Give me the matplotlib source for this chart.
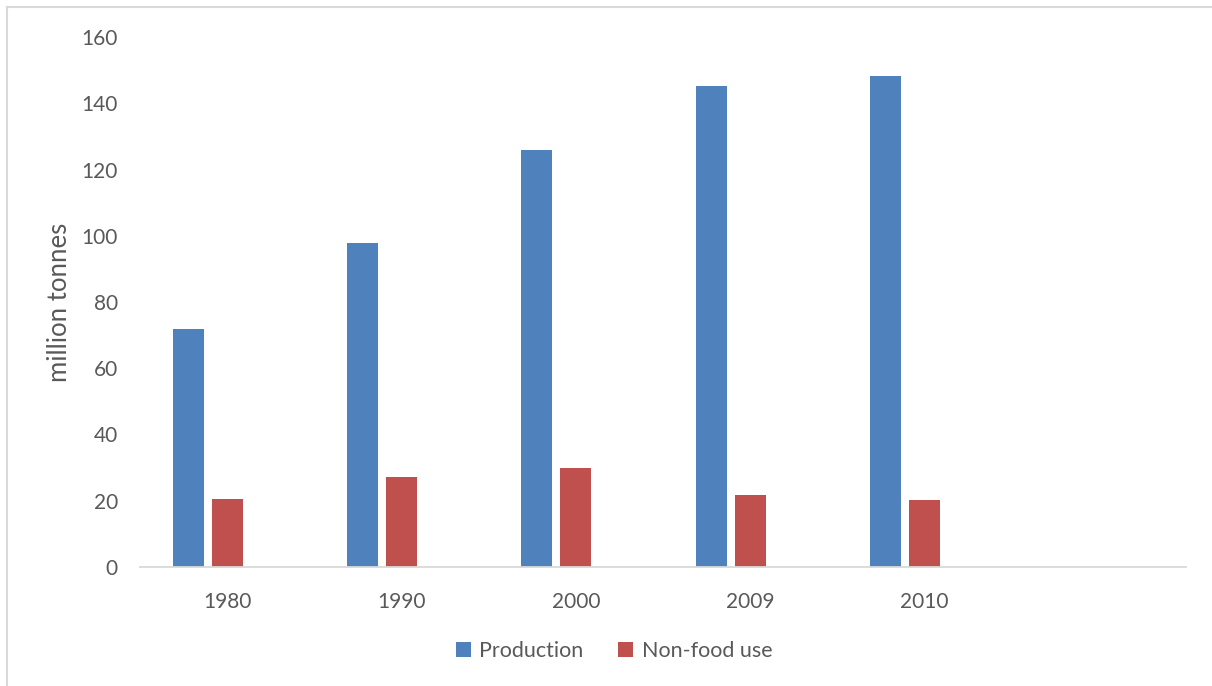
import matplotlib.pyplot as plt
import numpy as np
from matplotlib.lines import Line2D

# data
years = ['1980', '1990', '2000', '2009', '2010', '']
production = [71.8, 97.8, 125.9, 145.2, 148.2]
non_food = [20.5, 27.2, 29.9, 21.7, 20.2]
yticks = [0, 20, 40, 60, 80, 100, 120, 140, 160]

blue = '#4F81BD'
red = '#C0504D'
grey_txt = '#595959'

plt.rcParams['font.family'] = ['Lato', 'DejaVu Sans']

fig = plt.figure(figsize=(12.12, 6.86), dpi=100)
ax = fig.add_axes([140/1212, 1-567/686, (1186-140)/1212, (567-37)/686])

x = np.arange(len(production))
w = 0.178
step = 0.224
ax.bar(x - step, production, width=w, color=blue, label='Production')
ax.bar(x, non_food, width=w, color=red, label='Non-food use')

ax.set_xlim(-0.5, len(years) - 0.5)
ax.set_ylim(0, 160)
ax.set_yticks(yticks)
ax.set_xticks(np.arange(len(years)))
ax.set_xticklabels(years)
ax.tick_params(axis='both', length=0, labelsize=15, colors=grey_txt)
ax.tick_params(axis='y', pad=16)
ax.tick_params(axis='x', pad=18)

for s in ['top', 'right', 'left']:
    ax.spines[s].set_visible(False)
ax.spines['bottom'].set_color('#D9D9D9')
ax.spines['bottom'].set_linewidth(1.3)

ax.set_ylabel('million tonnes', fontsize=18.5, color=grey_txt, va='center')
ax.yaxis.set_label_coords(-0.0765, 0.5)

leg = fig.legend(loc='center', bbox_to_anchor=(614/1212, 1-651/686), ncol=2,
                 frameon=False, fontsize=15.5, handlelength=0.7, handleheight=0.7,
                 handletextpad=0.4, columnspacing=1.6)
for t in leg.get_texts():
    t.set_color(grey_txt)

# light frame around the chart area
fig.add_artist(Line2D([7/1212, 7/1212], [0, 1-7/686], color='#D9D9D9', lw=1.5))
fig.add_artist(Line2D([7/1212, 1], [1-7/686, 1-7/686], color='#D9D9D9', lw=1.5))

fig.savefig('out.png', dpi=100)
